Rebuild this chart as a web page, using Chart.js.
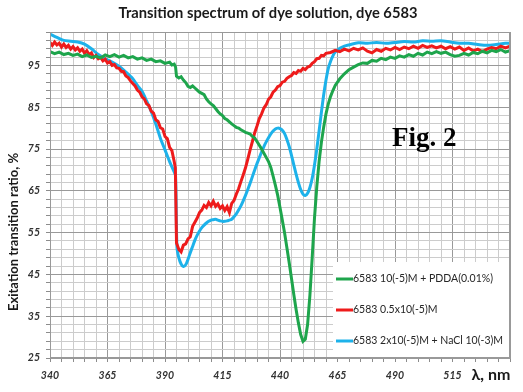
<!DOCTYPE html>
<html>
<head>
<meta charset="utf-8">
<script src="https://cdn.jsdelivr.net/npm/chart.js@4.4.1/dist/chart.umd.min.js"></script>
<style>
  body { margin: 0; background: #fff; }
</style>
</head>
<body>
<canvas id="myChart" width="523" height="392"></canvas>
<script>
// series labels (same order as the legend)
const seriesNames = [
    '6583 10(-5)M + PDDA(0.01%)',
    '6583 0.5x10(-5)M',
    '6583 2x10(-5)M + NaCl 10(-3)M'
];
const seriesColors = ['#1ea54c', '#ee1b1b', '#1db2ea'];

// green: 6583 10(-5)M + PDDA
const greenX = [340,342,344,346,348,350,352,354,356,358,360,362,364,366,368,370,372,374,376,378,380,382,384,386,388,390,392,393,394,394.6,395,396,397,398,399,400,401,402,403,404,405,406,407,408,409,410,411,412,413,414,415,416,417,418,419,420,421,422,423,424,425,426,427,428,429,430,431,432,433,434,435,436,437,438,439,440,441,442,443,444,445,446,447,448,449,450,451,452,453,454,455,456,457,458,459,460,461,462,463,464,465,466,467,468,470,472,474,476,478,480,482,484,486,488,490,492,494,496,498,500,502,504,506,508,510,512,514,516,518,520,522,524,526,528,530,532,534,536,538,540];
const greenY = [98.3,97.8,98.2,97.6,97.9,97.4,97.7,97.1,97.5,96.9,97.2,96.8,97.5,97.1,97.6,97.0,97.4,96.8,97.1,96.5,96.8,96.2,96.5,95.9,96.1,95.5,95.8,95.1,95.3,94.6,92.4,92.0,92.3,91.5,90.9,90.0,89.7,90.1,89.6,89.1,88.6,88.3,88.0,87.0,86.3,85.8,85.4,84.7,84.0,83.4,83.0,82.3,82.0,81.5,81.0,80.6,80.2,80.0,79.6,79.3,79.0,78.8,78.6,78.0,77.6,76.8,75.9,75.0,74.0,73.0,72.0,70.6,68.5,66.3,63.9,61.0,58.0,54.9,51.4,47.8,44.0,40.2,36.6,33.4,30.6,29.0,29.5,33.0,40.0,49.0,58.5,66.0,72.0,76.6,80.3,83.4,85.8,87.6,89.0,90.2,91.0,91.8,92.4,93.0,94.0,94.6,95.2,95.6,95.5,96.2,96.0,96.7,96.4,97.0,96.7,97.3,97.0,97.6,97.2,97.9,97.5,98.2,97.8,98.3,97.9,98.2,97.6,97.2,97.4,97.9,97.5,98.1,97.8,98.4,98.0,98.6,98.3,98.8,98.2,98.5];

// red: 6583 0.5x10(-5)M
const redX = [340,341,342,343,344,345,346,347,348,349,350,351,352,353,354,355,356,357,358,359,360,361,362,363,364,365,366,367,368,369,370,371,372,373,374,375,376,377,378,379,380,381,382,383,384,385,386,387,388,389,390,391,392,393,394,394.5,395,396,397,398,399,400,401,402,403,404,405,406,407,408,409,410,411,412,413,414,415,416,417,418,419,420,421,422,423,424,425,426,427,428,429,430,431,432,433,434,435,436,437,438,439,440,441,442,443,444,445,446,447,448,449,450,451,452,453,454,455,456,457,458,459,460,462,464,466,468,470,472,474,476,478,480,482,484,486,488,490,492,494,496,498,500,502,504,506,508,510,512,514,516,518,520,522,524,526,528,530,532,534,536,538,540];
const redY = [100.5,99.8,100.6,99.9,100.3,99.4,100.1,99.3,99.8,98.9,99.5,98.7,99.2,98.4,98.9,97.9,98.5,97.6,98.0,96.9,97.4,96.6,96.9,96.1,96.5,95.6,95.9,95.0,95.2,94.4,94.3,93.6,93.5,92.5,92.1,91.3,90.7,90.1,89.1,88.6,87.5,87.0,85.8,85.4,84.1,83.6,82.0,81.6,80.1,79.8,78.0,77.5,75.4,74.6,72.0,70.5,52.5,51.0,50.4,52.0,52.3,53.5,54.0,56.5,57.5,58.5,59.8,60.4,61.5,61.0,62.2,61.4,62.5,61.3,61.9,60.8,61.4,60.3,61.2,59.8,62.0,62.7,64.2,65.5,67.2,68.8,70.5,72.6,74.8,76.8,78.9,80.5,82.3,83.4,84.8,85.6,86.9,87.5,88.6,89.1,89.9,90.2,91.0,91.2,91.9,92.3,92.6,93.3,93.1,93.8,93.6,94.3,94.0,94.6,94.8,95.5,95.9,96.6,96.7,97.4,97.3,97.9,98.1,98.6,98.3,98.9,98.5,99.1,98.7,99.2,98.4,98.0,98.8,98.4,99.1,98.7,99.3,98.8,99.4,99.0,99.6,99.1,99.8,99.3,99.7,99.2,99.6,99.0,99.5,98.9,99.4,98.6,99.2,98.5,98.9,98.3,98.9,99.3,99.0,99.6,99.2,99.6];

// blue: 6583 2x10(-5)M + NaCl
const blueX = [340,343,346,349,352,355,358,361,364,367,370,373,376,378,380,382,384,386,388,390,392,394,394.6,395.2,396,397,398,399,400,401,402,403,404,405,406,407,408,409,410,411,412,413,414,415,416,417,418,419,420,421,422,423,424,425,426,427,428,429,430,431,432,433,434,435,436,437,438,439,440,441,442,443,444,445,446,447,448,449,450,451,452,453,454,455,456,457,458,459,460,461,462,463,464,466,468,470,474,478,482,486,490,494,498,502,506,510,514,518,522,526,530,534,538,540];
const blueY = [102.5,101.7,101.0,100.8,100.6,100.1,99.0,97.6,96.6,95.8,94.8,93.4,91.8,90.2,88.8,86.5,84.0,81.0,77.6,74.8,72.0,69.5,68.5,51.5,49.0,47.5,46.9,47.3,48.6,50.2,51.7,53.2,54.4,55.4,56.2,56.8,57.3,57.7,58.0,58.1,58.2,58.0,57.8,57.7,57.7,57.8,58.0,58.2,58.8,59.5,60.4,61.4,62.6,63.9,65.3,66.8,68.4,70.0,71.5,72.9,74.3,75.6,76.7,77.7,78.6,79.3,79.8,80.0,79.9,79.5,78.7,77.3,75.6,73.5,71.2,69.0,67.0,65.3,64.2,63.9,64.4,65.8,68.0,71.2,75.0,79.3,83.8,88.0,91.5,94.3,96.0,97.3,98.2,99.1,99.6,99.9,100.4,100.3,100.5,100.3,100.5,100.7,100.6,100.9,100.8,100.9,100.6,100.3,100.3,100.0,99.8,100.0,100.3,100.3];

// axis ticks
const xMin = 340, xMax = 540, xStep = 5, xLabelStep = 25;
const yMin = 25, yMax = 103, yStep = 2, yLabelStep = 10;

function toPoints(xs, ys) {
    return xs.map((x, i) => ({ x: x, y: ys[i] }));
}

const gridMinor = '#cccccc';
const gridMajor = '#999999';
const tickFont = { family: 'Lato', size: 10.5, style: 'italic', weight: 'bold' };

const textPlugin = {
    id: 'texts',
    afterDatasetsDraw(chart) {
        const ctx = chart.ctx;
        const a = chart.chartArea;
        ctx.save();
        // frame round the plot
        ctx.strokeStyle = gridMajor;
        ctx.lineWidth = 1;
        ctx.strokeRect(a.left + 0.5, a.top + 0.5, a.right - a.left - 1, a.bottom - a.top - 1);

        // legend box
        ctx.fillStyle = '#fff';
        ctx.fillRect(333, 262, a.right - 334, a.bottom - 263);
        ctx.font = '10.5px Lato';
        ctx.textBaseline = 'middle';
        ctx.textAlign = 'left';
        const rows = [279, 310, 341];
        for (let i = 0; i < seriesNames.length; i++) {
            ctx.strokeStyle = seriesColors[i];
            ctx.lineWidth = 3;
            ctx.beginPath();
            ctx.moveTo(336, rows[i]);
            ctx.lineTo(353, rows[i]);
            ctx.stroke();
            ctx.fillStyle = '#262626';
            ctx.fillText(seriesNames[i], 353, rows[i]);
        }

        // Fig. 2
        ctx.fillStyle = '#000';
        ctx.font = 'bold 27px "Liberation Serif"';
        ctx.textBaseline = 'alphabetic';
        ctx.fillText('Fig. 2', 392, 146);
        ctx.restore();
    },
    afterDraw(chart) {
        const ctx = chart.ctx;
        ctx.save();
        ctx.fillStyle = '#1a1a1a';
        ctx.textAlign = 'center';
        ctx.textBaseline = 'middle';
        ctx.font = 'bold 14.7px Lato';
        ctx.fillText('Transition spectrum of dye solution, dye 6583', 268, 13);

        ctx.font = 'bold 16px Lato';
        ctx.fillText('\u03bb, nm', 491, 375);

        ctx.translate(14, 232);
        ctx.rotate(-Math.PI / 2);
        ctx.font = 'bold 13px Lato';
        ctx.fillText('Exitation transition ratio, %', 0, 0);
        ctx.restore();
    }
};

const datasets = [
    { label: seriesNames[0], data: toPoints(greenX, greenY), borderColor: seriesColors[0] },
    { label: seriesNames[1], data: toPoints(redX, redY), borderColor: seriesColors[1] },
    { label: seriesNames[2], data: toPoints(blueX, blueY), borderColor: seriesColors[2], tension: 0.3 }
];
datasets.forEach(d => {
    d.borderWidth = 3;
    d.pointRadius = 0;
    d.fill = false;
});

const myChart = new Chart(document.getElementById('myChart'), {
    type: 'line',
    data: { datasets: datasets },
    options: {
        responsive: false,
        animation: false,
        layout: { padding: { top: 32, right: 13, left: 0, bottom: 0 } },
        plugins: {
            legend: { display: false },
            title: { display: false },
            tooltip: { enabled: false }
        },
        scales: {
            x: {
                type: 'linear',
                min: xMin,
                max: xMax,
                afterFit: s => { s.height = 34; },
                border: { color: gridMajor },
                grid: {
                    color: c => (c.tick && (c.tick.value - xMin) % xLabelStep === 0) ? gridMajor : gridMinor,
                    tickLength: 4,
                    tickColor: '#8c8c8c'
                },
                ticks: {
                    stepSize: xStep,
                    autoSkip: false,
                    maxRotation: 0,
                    padding: 7,
                    color: '#333',
                    font: tickFont,
                    callback: v => ((v - xMin) % xLabelStep === 0 && v < xMax) ? String(v) : ''
                }
            },
            y: {
                min: yMin,
                max: yMax,
                afterFit: s => { s.width = 50; },
                border: { color: gridMajor },
                grid: {
                    color: c => (c.tick && (c.tick.value - yMin) % yLabelStep === 0) ? gridMajor : gridMinor,
                    tickLength: 4,
                    tickColor: '#8c8c8c'
                },
                ticks: {
                    stepSize: yStep,
                    autoSkip: false,
                    padding: 6,
                    color: '#333',
                    font: tickFont,
                    callback: v => ((v - yMin) % yLabelStep === 0) ? String(v) : ''
                }
            }
        }
    },
    plugins: [textPlugin]
});
</script>
</body>
</html>
